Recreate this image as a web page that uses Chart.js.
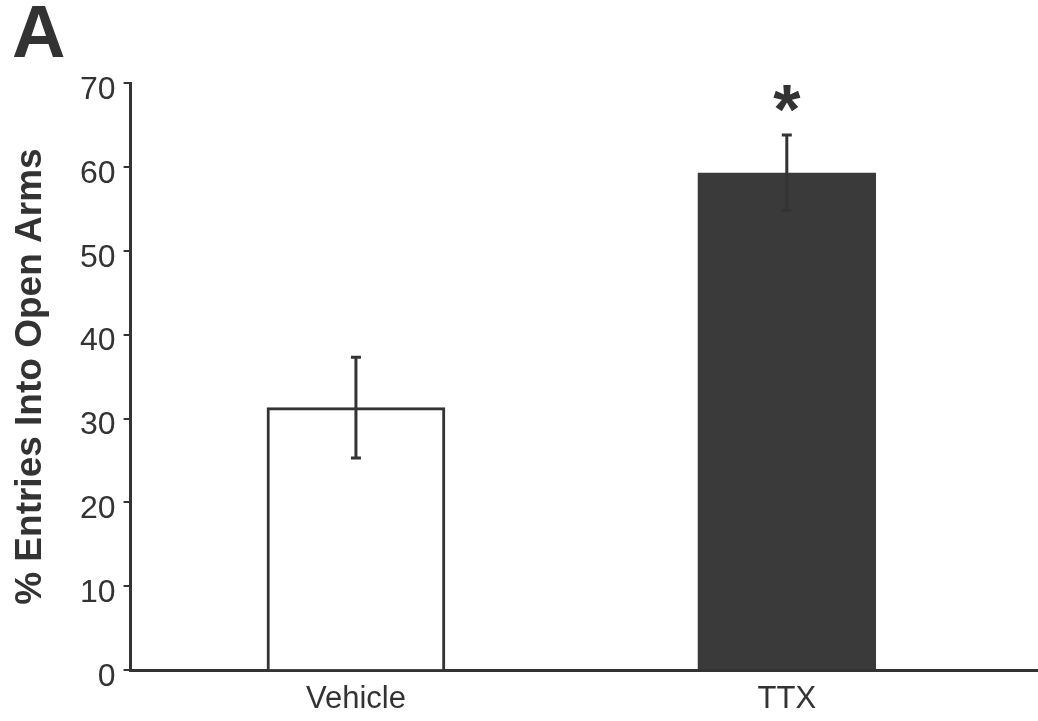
<!DOCTYPE html>
<html>
<head>
<meta charset="utf-8">
<script src="https://cdn.jsdelivr.net/npm/chart.js@4/dist/chart.umd.min.js"></script>
<style>
html, body { margin: 0; padding: 0; background: #fff; }
</style>
</head>
<body>
<canvas id="chart" width="1038" height="721"></canvas>
<script>
var groups = ['Vehicle', 'TTX']
var means  = [31.3, 59.3]
var errs   = [6.0, 4.5]
var marks  = ['', '*']
var yTicks = [0, 10, 20, 30, 40, 50, 60, 70]

var ink = '#333'
var font = '"Liberation Sans", Arial, Helvetica, sans-serif'

// whiskers + significance stars, drawn on top of the bars
var errorBars = {
	id: 'errorBars'
	, afterDatasetsDraw: function (chart) {
		var ctx = chart.ctx
		  , ys = chart.scales.y
		  , meta = chart.getDatasetMeta(0)
		ctx.save()
		ctx.strokeStyle = ink
		ctx.lineWidth = 3
		meta.data.forEach(function (bar, i) {
			var top = ys.getPixelForValue(means[i] + errs[i])
			  , bot = ys.getPixelForValue(means[i] - errs[i])
			ctx.beginPath()
			ctx.moveTo(bar.x, top); ctx.lineTo(bar.x, bot)
			ctx.moveTo(bar.x - 5, top); ctx.lineTo(bar.x + 5, top)
			ctx.moveTo(bar.x - 5, bot); ctx.lineTo(bar.x + 5, bot)
			ctx.stroke()
			if (marks[i]) {
				ctx.fillStyle = ink
				ctx.font = 'bold 70px ' + font
				ctx.textAlign = 'center'
				ctx.textBaseline = 'alphabetic'
				ctx.fillText(marks[i], bar.x, top - 1)
			}
		})
		ctx.restore()
	}
}

new Chart(document.getElementById('chart'), {
	type: 'bar'
	, data: {
		datasets: [{
			data: groups.map(function (g, i) { return { x: i, y: means[i] } })
			, backgroundColor: ['#ffffff', '#3a3a3a']
			, borderColor: [ink, '#3a3a3a']
			, borderWidth: 3
			, borderSkipped: 'bottom'
			, barThickness: 178
		}]
	}
	, options: {
		responsive: false
		, animation: false
		, devicePixelRatio: 1
		, layout: { padding: { left: 12, right: 0, top: 0, bottom: -8 } }
		, plugins: {
			legend: { display: false }
			, tooltip: { enabled: false }
			, title: {
				display: true
				, text: 'A'
				, align: 'start'
				, color: ink
				, font: { family: font, size: 74, weight: 'bold', lineHeight: 1 }
				, padding: { top: 0, bottom: 9 }
			}
		}
		, scales: {
			x: {
				type: 'linear'
				, min: -0.523
				, max: 1.583
				, offset: false
				, afterBuildTicks: function (s) {
					s.ticks = groups.map(function (g, i) { return { value: i } })
				}
				, grid: { display: false, drawTicks: false }
				, border: { display: true, color: ink, width: 3 }
				, ticks: {
					color: ink
					, padding: 17
					, maxRotation: 0
					, font: { family: font, size: 31, lineHeight: 0.8 }
					, callback: function (v) { return groups[v] }
				}
			}
			, y: {
				min: 0
				, max: 70
				, afterBuildTicks: function (s) {
					s.ticks = yTicks.map(function (v) { return { value: v } })
				}
				, grid: {
					display: true
					, drawOnChartArea: false
					, drawTicks: true
					, tickLength: 7
					, color: ink
					, lineWidth: 2
				}
				, border: { display: true, color: ink, width: 3 }
				, ticks: {
					color: ink
					, padding: 8
					, labelOffset: 7
					, font: { family: font, size: 32 }
				}
				, title: {
					display: true
					, text: '% Entries Into Open Arms'
					, color: ink
					, font: { family: font, size: 37, weight: 'bold', lineHeight: 1 }
					, padding: { top: 0, bottom: 23 }
				}
			}
		}
	}
	, plugins: [errorBars]
})
</script>
</body>
</html>
